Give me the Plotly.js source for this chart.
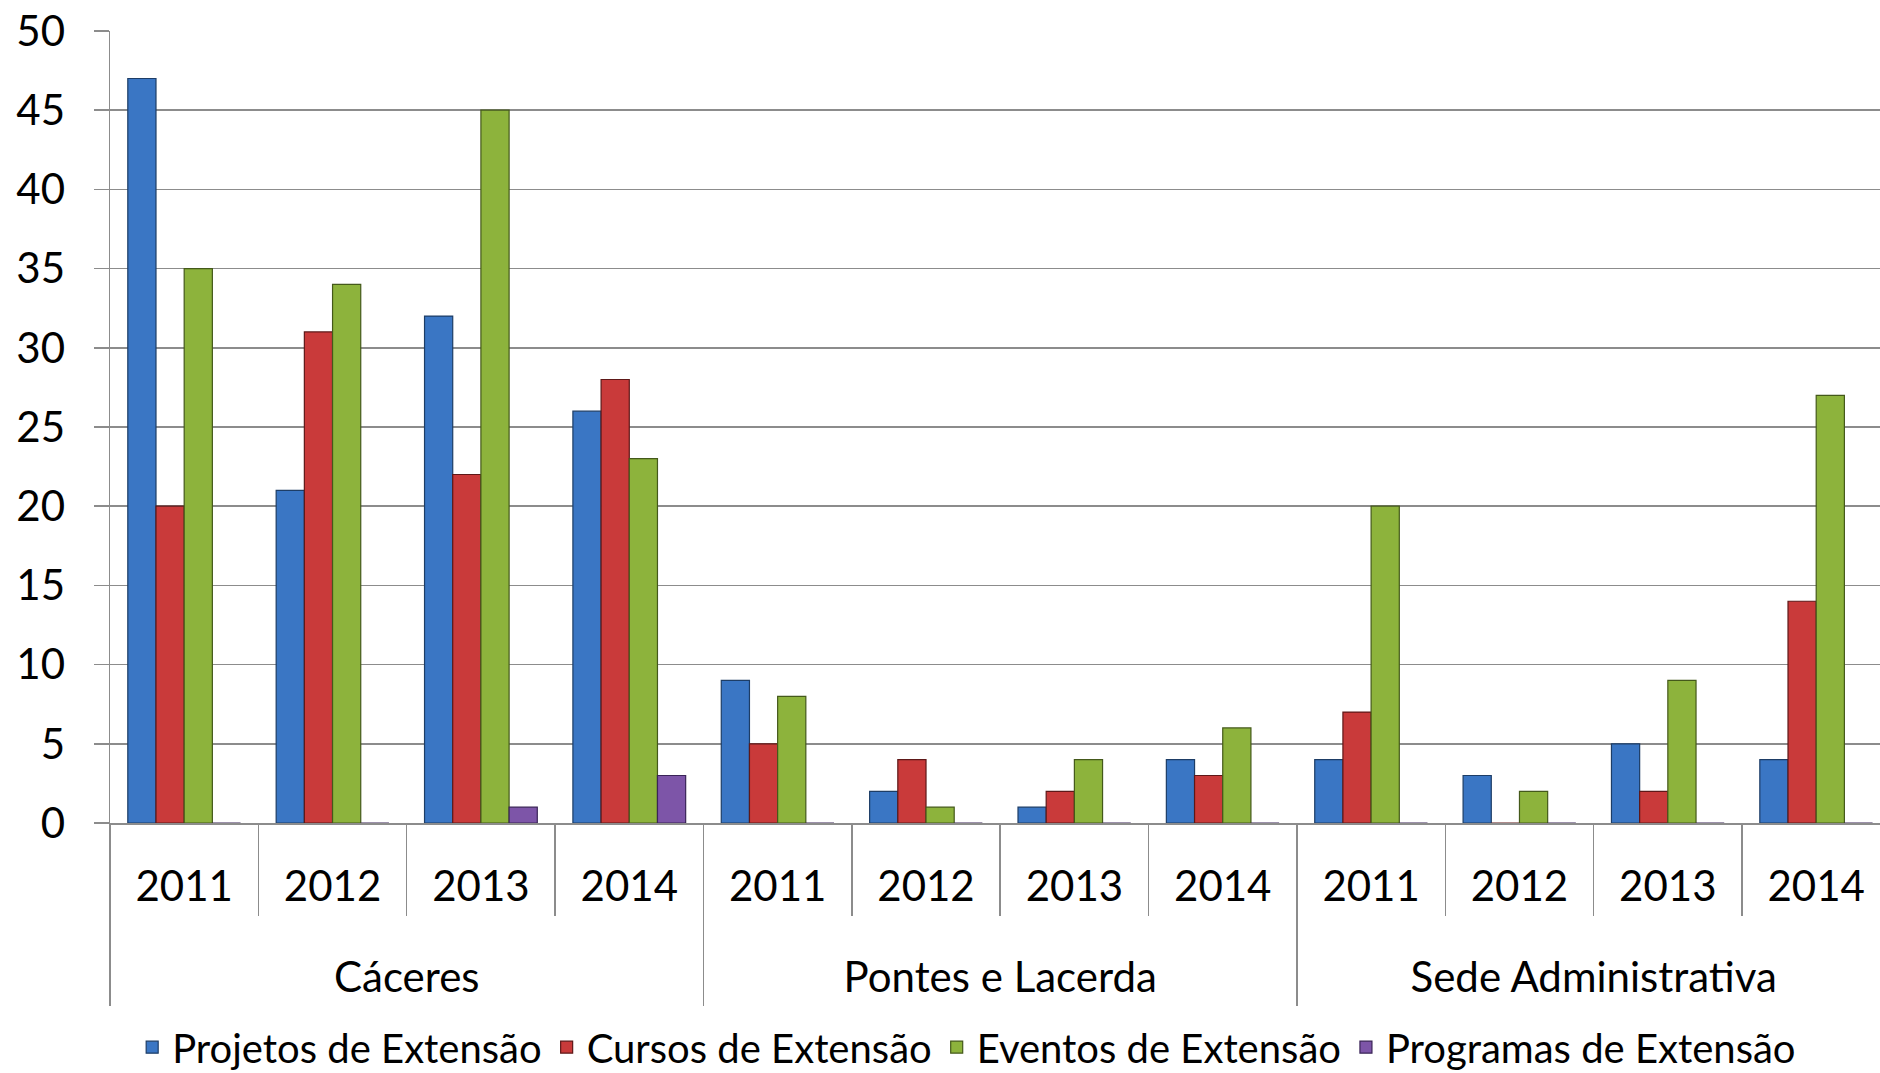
<!DOCTYPE html>
<html>
<head>
<meta charset="utf-8">
<script src="https://cdn.plot.ly/plotly-3.0.1.min.js"></script>
<style>
  html, body { margin: 0; padding: 0; background: #fff; overflow: hidden; }
  #graph { width: 1880px; height: 1073px; }
</style>
</head>
<body>
<div id="graph"></div>
<script>
// categories
var groups = ['Cáceres', 'Pontes e Lacerda', 'Sede Administrativa'];
var years = ['2011', '2012', '2013', '2014'];

// series values, one per (group, year), in group order
var projetos  = [47, 21, 32, 26,  9, 2, 1, 4,  4, 3, 5, 4];
var cursos    = [20, 31, 22, 28,  5, 4, 2, 3,  7, 0, 2, 14];
var eventos   = [35, 34, 45, 23,  8, 1, 4, 6, 20, 2, 9, 27];
var programas = [ 0,  0,  1,  3,  0, 0, 0, 0,  0, 0, 0, 0];

var seriesNames = ['Projetos de Extensão', 'Cursos de Extensão', 'Eventos de Extensão', 'Programas de Extensão'];

// build the two level x categories
var outer = [], inner = [];
groups.forEach(function (g) {
    years.forEach(function (y) { outer.push(g); inner.push(y); });
});
var nCat = inner.length;
var nYears = years.length;

var FONT = 'Lato, "Open Sans", sans-serif';
var GRID = '#8c8c8c';

function barTrace(name, vals, color, edge) {
    return {
        type: 'bar',
        name: name,
        x: [outer, inner],
        y: vals,
        marker: {color: color, line: {color: edge, width: 1.2}},
        hoverinfo: 'y+name'
    };
}

// empty traces so the overlay label axes get drawn
function axisHolder(ax) {
    return {type: 'scatter', x: [], y: [], xaxis: ax, yaxis: 'y', showlegend: false, hoverinfo: 'skip'};
}

var data = [
    barTrace(seriesNames[0], projetos, '#3a76c4', '#1d3d66'),
    barTrace(seriesNames[1], cursos, '#c93a3a', '#5e1818'),
    barTrace(seriesNames[2], eventos, '#8db33c', '#44591a'),
    barTrace(seriesNames[3], programas, '#7d55a8', '#3a2457'),
    axisHolder('x2'),
    axisHolder('x3')
];

// range cut a little short on the right, like the cropped original
var xRange = [-0.5, nCat - 0.57];

// category centres / boundaries on the index scale
var yearCentres = inner.map(function (_, i) { return i; });
var yearBounds = [];
for (var i = 1; i < nCat; i++) yearBounds.push(i - 0.5);
var groupCentres = groups.map(function (_, k) { return k * nYears + (nYears - 1) / 2; });
var groupBounds = groups.map(function (_, k) { return k * nYears - 0.5; });

var layout = {
    width: 1880,
    height: 1073,
    margin: {l: 110, r: 0, t: 31, b: 250, autoexpand: false},
    paper_bgcolor: '#fff',
    plot_bgcolor: '#fff',
    font: {family: FONT, size: 42, color: '#000'},
    barmode: 'group',
    bargap: 0.24,
    bargroupgap: 0,
    showlegend: true,
    legend: {
        orientation: 'h',
        x: 0.484, xanchor: 'center',
        y: -0.283, yanchor: 'middle',
        font: {family: FONT, size: 40, color: '#000'},
        itemwidth: 30,
        tracegroupgap: 0
    },
    xaxis: {
        type: 'multicategory',
        range: xRange,
        showline: true,
        linecolor: GRID,
        linewidth: 2,
        ticks: '',
        showdividers: false,
        showgrid: false,
        showticklabels: false,
        layer: 'above traces'
    },
    // year labels and year dividers
    xaxis2: {
        overlaying: 'x',
        anchor: 'y',
        side: 'bottom',
        type: 'linear',
        range: xRange,
        tickmode: 'array',
        tickvals: yearCentres,
        ticktext: inner,
        ticks: '',
        ticklabelstandoff: 35,
        tickfont: {family: FONT, size: 42, color: '#000'},
        minor: {
            tickmode: 'array',
            tickvals: yearBounds,
            ticks: 'outside',
            ticklen: 92,
            tickwidth: 1.5,
            tickcolor: GRID,
            showgrid: false
        },
        showgrid: false,
        zeroline: false,
        showline: false
    },
    // group labels and group dividers
    xaxis3: {
        overlaying: 'x',
        anchor: 'y',
        side: 'bottom',
        type: 'linear',
        range: xRange,
        tickmode: 'array',
        tickvals: groupCentres,
        ticktext: groups,
        ticks: '',
        ticklabelstandoff: 126,
        tickfont: {family: FONT, size: 42, color: '#000'},
        minor: {
            tickmode: 'array',
            tickvals: groupBounds,
            ticks: 'outside',
            ticklen: 182,
            tickwidth: 1.5,
            tickcolor: GRID,
            showgrid: false
        },
        showgrid: false,
        zeroline: false,
        showline: false
    },
    yaxis: {
        range: [0, 50],
        dtick: 5,
        tick0: 0,
        showline: true,
        linecolor: GRID,
        linewidth: 1.5,
        showgrid: true,
        gridcolor: GRID,
        gridwidth: 1.5,
        zeroline: false,
        ticks: 'outside',
        ticklen: 15,
        tickwidth: 1.5,
        tickcolor: GRID,
        ticklabelstandoff: 20,
        tickfont: {family: FONT, size: 42, color: '#000'}
    }
};

Plotly.newPlot('graph', data, layout, {displayModeBar: false, staticPlot: true});
</script>
</body>
</html>
